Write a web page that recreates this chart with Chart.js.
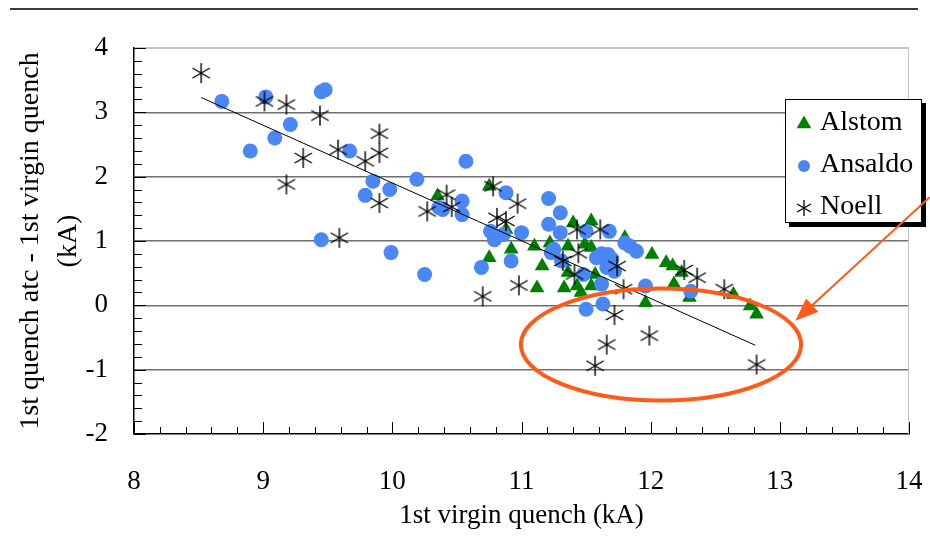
<!DOCTYPE html>
<html>
<head>
<meta charset="utf-8">
<script src="https://cdn.jsdelivr.net/npm/chart.js@4.4.1/dist/chart.umd.min.js"></script>
<style>
  html, body { margin: 0; padding: 0; background: #fff; }
  #wrap { position: relative; width: 930px; height: 539px; }
  #topRule { position: absolute; left: 10px; top: 8px; width: 908px; height: 2px; background: #3a3a3a; }
</style>
</head>
<body>
<div id="wrap">
  <canvas id="chart" width="930" height="539"></canvas>
  <div id="topRule"></div>
</div>
<script>
// Values (kA)
const alstomX = [10.35, 10.75, 10.88, 10.75, 10.92, 11.10, 11.16, 11.12, 11.22, 11.33, 11.36, 11.36, 11.40, 11.54, 11.43, 11.46, 11.49, 11.54, 11.54, 11.57, 11.80, 12.01, 12.12, 12.17, 12.18, 12.24, 12.30, 12.64, 11.96, 12.77, 12.82];
const alstomY = [1.70, 1.85, 1.18, 0.74, 0.87, 0.92, 0.61, 0.27, 0.97, 0.27, 0.92, 0.51, 1.28, 1.31, 0.30, 0.20, 0.95, 0.90, 0.30, 0.48, 1.05, 0.79, 0.66, 0.61, 0.33, 0.51, 0.12, 0.17, 0.04, -0.01, -0.14];

const ansaldoX = [8.68, 9.02, 9.45, 9.48, 9.21, 9.09, 8.90, 9.67, 9.85, 9.79, 9.98, 9.45, 9.99, 10.19, 10.25, 10.36, 10.39, 10.54, 10.54, 10.57, 10.88, 10.76, 10.79, 10.86, 11.00, 10.69, 10.92, 11.21, 11.30, 11.21, 11.30, 11.25, 11.31, 11.50, 11.68, 11.80, 11.84, 11.89, 11.58, 11.67, 11.62, 11.70, 11.66, 11.72, 11.48, 11.62, 11.96, 11.50, 11.63, 12.31, 11.23];
const ansaldoY = [3.17, 3.24, 3.32, 3.35, 2.81, 2.60, 2.40, 2.40, 1.93, 1.71, 1.80, 1.02, 0.82, 1.96, 0.48, 1.52, 1.49, 1.62, 1.41, 2.24, 1.75, 1.15, 1.02, 1.10, 1.13, 0.59, 0.69, 1.66, 1.44, 1.26, 1.13, 0.87, 0.69, 1.15, 1.15, 0.97, 0.92, 0.84, 0.74, 0.79, 0.80, 0.72, 0.59, 0.53, 0.48, 0.33, 0.30, -0.06, 0.02, 0.22, 0.82];

const noellX = [8.52, 9.01, 9.18, 9.44, 9.31, 9.58, 9.79, 9.90, 9.90, 9.18, 9.90, 9.59, 10.42, 10.46, 10.27, 10.78, 10.97, 10.81, 10.88, 11.43, 11.61, 11.44, 11.32, 11.41, 11.74, 11.79, 10.98, 10.70, 12.26, 12.36, 12.57, 11.72, 11.99, 11.66, 11.57, 12.82];
const noellY = [3.61, 3.17, 3.12, 2.95, 2.29, 2.42, 2.24, 2.67, 2.37, 1.88, 1.59, 1.05, 1.72, 1.53, 1.46, 1.85, 1.58, 1.36, 1.31, 1.18, 1.18, 0.81, 0.69, 0.48, 0.61, 0.25, 0.31, 0.14, 0.55, 0.43, 0.25, -0.15, -0.47, -0.61, -0.94, -0.92];

// linear trend line ends
const trendX = [8.52, 12.81];
const trendY = [3.23, -0.62];

// axis ticks
const xTicks = [8, 9, 10, 11, 12, 13, 14];
const yTicks = [-2, -1, 0, 1, 2, 3, 4];

const seriesNames = ['Alstom', 'Ansaldo', 'Noell'];

// orange ellipse and arrow, in axis units
const ringNote = { cx: 12.08, cy: -0.61, rx: 1.085, ry: 0.87 };
const arrowNote = { x0: 14.16, y0: 1.68, x1: 13.12, y1: -0.24 };

const FONT = "'Liberation Serif', 'Times New Roman', serif";
const GREEN = '#008000';
const BLUE = '#4a87f5';
const ORANGE = '#ff5a16';

function toPoints(xs, ys) {
    return xs.map((v, i) => ({ x: v, y: ys[i] }));
}

// six-armed asterisk used for Noell
function makeStar(r, lw) {
    const c = document.createElement('canvas');
    const s = Math.ceil(r * 2 + 4);
    c.width = s; c.height = s;
    const g = c.getContext('2d');
    g.strokeStyle = '#000';
    g.lineWidth = lw;
    g.beginPath();
    for (let k = 0; k < 3; k++) {
        const a = Math.PI / 2 + k * Math.PI / 3;
        g.moveTo(s / 2 + Math.cos(a) * r, s / 2 + Math.sin(a) * r);
        g.lineTo(s / 2 - Math.cos(a) * r, s / 2 - Math.sin(a) * r);
    }
    g.stroke();
    return c;
}
const starImg = makeStar(10, 1.4);
const starSmall = makeStar(8, 1.3);

// minor ticks pointing inward + light frame top/right
const frameTicks = {
    id: 'frameTicks',
    beforeDatasetsDraw(chart) {
        const { ctx, chartArea: a, scales: { x, y } } = chart;
        ctx.save();
        ctx.strokeStyle = '#c4c4c4';
        ctx.lineWidth = 1;
        ctx.beginPath();
        ctx.moveTo(a.left, a.top + 0.5);
        ctx.lineTo(a.right - 0.5, a.top + 0.5);
        ctx.lineTo(a.right - 0.5, a.bottom);
        ctx.stroke();

        ctx.strokeStyle = '#000';
        ctx.lineWidth = 1;
        const yMin = yTicks[0], yMax = yTicks[yTicks.length - 1];
        const ny = Math.round((yMax - yMin) / 0.2);
        for (let i = 0; i <= ny; i++) {
            const py = Math.round(y.getPixelForValue(yMin + i * 0.2)) + 0.5;
            const len = i % 5 === 0 ? 12 : 8;
            ctx.beginPath();
            ctx.moveTo(a.left, py);
            ctx.lineTo(a.left + len, py);
            ctx.stroke();
        }
        const xMin = xTicks[0], xMax = xTicks[xTicks.length - 1];
        const nx = Math.round((xMax - xMin) / 0.2);
        for (let i = 0; i <= nx; i++) {
            const px = Math.round(x.getPixelForValue(xMin + i * 0.2)) + 0.5;
            const len = i % 5 === 0 ? 12 : 7;
            ctx.beginPath();
            ctx.moveTo(px, a.bottom);
            ctx.lineTo(px, a.bottom - len);
            ctx.stroke();
        }
        ctx.restore();
    }
};

// boxed legend with shadow, then the orange marks
const notes = {
    id: 'notes',
    afterDraw(chart) {
        const { ctx, chartArea: a, scales: { x, y } } = chart;
        ctx.save();

        const bx = a.right - 124, by = a.top + 51, bw = 137, bh = 124;
        ctx.fillStyle = '#000';
        ctx.fillRect(bx + 4, by + 4, bw, bh);
        ctx.fillStyle = '#fff';
        ctx.fillRect(bx, by, bw, bh);
        ctx.strokeStyle = '#000';
        ctx.lineWidth = 1;
        ctx.strokeRect(bx + 0.5, by + 0.5, bw - 1, bh - 1);

        const rows = [by + 24, by + 66, by + 108];
        const mx = bx + 19;
        ctx.fillStyle = GREEN;
        Chart.helpers.drawPoint(ctx, { pointStyle: 'triangle', radius: 8.5, borderWidth: 0, rotation: 0 }, mx, rows[0] + 1);
        ctx.fillStyle = BLUE;
        Chart.helpers.drawPoint(ctx, { pointStyle: 'circle', radius: 6, borderWidth: 0, rotation: 0 }, mx, rows[1] + 1);
        ctx.drawImage(starSmall, mx - starSmall.width / 2, rows[2] + 1 - starSmall.height / 2);

        ctx.fillStyle = '#000';
        ctx.font = '28px ' + FONT;
        ctx.textBaseline = 'middle';
        ctx.textAlign = 'left';
        seriesNames.forEach((n, i) => ctx.fillText(n, bx + 35, rows[i]));

        // ellipse
        const ex = x.getPixelForValue(ringNote.cx), ey = y.getPixelForValue(ringNote.cy);
        const erx = x.getPixelForValue(ringNote.cx + ringNote.rx) - ex;
        const ery = ey - y.getPixelForValue(ringNote.cy + ringNote.ry);
        ctx.strokeStyle = ORANGE;
        ctx.lineWidth = 4;
        ctx.beginPath();
        ctx.ellipse(ex, ey, erx, ery, 0, 0, Math.PI * 2);
        ctx.stroke();

        // arrow
        const p0 = [x.getPixelForValue(arrowNote.x0), y.getPixelForValue(arrowNote.y0)];
        const p1 = [x.getPixelForValue(arrowNote.x1), y.getPixelForValue(arrowNote.y1)];
        const ang = Math.atan2(p1[1] - p0[1], p1[0] - p0[0]);
        const hl = 23, hw = 9;
        ctx.lineWidth = 2;
        ctx.beginPath();
        ctx.moveTo(p0[0], p0[1]);
        ctx.lineTo(p1[0] - Math.cos(ang) * hl * 0.8, p1[1] - Math.sin(ang) * hl * 0.8);
        ctx.stroke();
        ctx.fillStyle = ORANGE;
        ctx.beginPath();
        ctx.moveTo(p1[0], p1[1]);
        ctx.lineTo(p1[0] - Math.cos(ang) * hl - Math.sin(ang) * hw, p1[1] - Math.sin(ang) * hl + Math.cos(ang) * hw);
        ctx.lineTo(p1[0] - Math.cos(ang) * hl + Math.sin(ang) * hw, p1[1] - Math.sin(ang) * hl - Math.cos(ang) * hw);
        ctx.closePath();
        ctx.fill();

        ctx.restore();
    }
};

const chart = new Chart(document.getElementById('chart'), {
    type: 'scatter',
    data: {
        datasets: [
            {
                label: 'trend',
                type: 'line',
                data: toPoints(trendX, trendY),
                borderColor: '#000',
                borderWidth: 1,
                pointRadius: 0,
                fill: false,
                order: 0
            },
            {
                label: seriesNames[2],
                data: toPoints(noellX, noellY),
                pointStyle: starImg,
                order: 1
            },
            {
                label: seriesNames[1],
                data: toPoints(ansaldoX, ansaldoY),
                pointStyle: 'circle',
                pointRadius: 7.5,
                backgroundColor: BLUE,
                borderWidth: 0,
                order: 2
            },
            {
                label: seriesNames[0],
                data: toPoints(alstomX, alstomY),
                pointStyle: 'triangle',
                pointRadius: 8.5,
                backgroundColor: GREEN,
                borderWidth: 0,
                order: 3
            }
        ]
    },
    options: {
        responsive: false,
        animation: false,
        devicePixelRatio: 1,
        layout: { padding: { top: 48, right: 21, bottom: 0, left: 0 } },
        plugins: {
            legend: { display: false },
            tooltip: { enabled: false }
        },
        scales: {
            x: {
                type: 'linear',
                min: xTicks[0],
                max: xTicks[xTicks.length - 1],
                afterBuildTicks: s => { s.ticks = xTicks.map(v => ({ value: v })); },
                afterFit: s => { s.height = 105; },
                grid: { display: false, drawTicks: true, tickLength: 32 },
                border: { display: true, color: '#000', width: 1.5 },
                ticks: {
                    padding: 0,
                    color: '#000',
                    font: { family: FONT, size: 27 },
                    maxRotation: 0
                },
                title: {
                    display: true,
                    text: '1st virgin quench (kA)',
                    color: '#000',
                    font: { family: FONT, size: 27, lineHeight: 1.2 },
                    padding: { top: 0, bottom: 7 }
                }
            },
            y: {
                type: 'linear',
                min: yTicks[0],
                max: yTicks[yTicks.length - 1],
                afterBuildTicks: s => { s.ticks = yTicks.map(v => ({ value: v })); },
                afterFit: s => { s.width = 134; },
                grid: {
                    drawTicks: false,
                    lineWidth: 1.6,
                    color: c => {
                        const v = c.tick ? c.tick.value : null;
                        if (v === yTicks[0]) return 'rgba(0,0,0,0)';
                        if (v === yTicks[yTicks.length - 1]) return '#c4c4c4';
                        return '#6f6f6f';
                    }
                },
                border: { display: true, color: '#000', width: 1.5 },
                ticks: {
                    padding: 26,
                    color: '#000',
                    font: { family: FONT, size: 27 }
                },
                title: {
                    display: true,
                    text: ['1st quench atc - 1st virgin quench', '(kA)'],
                    color: '#000',
                    font: { family: FONT, size: 28, lineHeight: 1.35 },
                    padding: { top: 12, bottom: 0 }
                }
            }
        }
    },
    plugins: [frameTicks, notes]
});
</script>
</body>
</html>
